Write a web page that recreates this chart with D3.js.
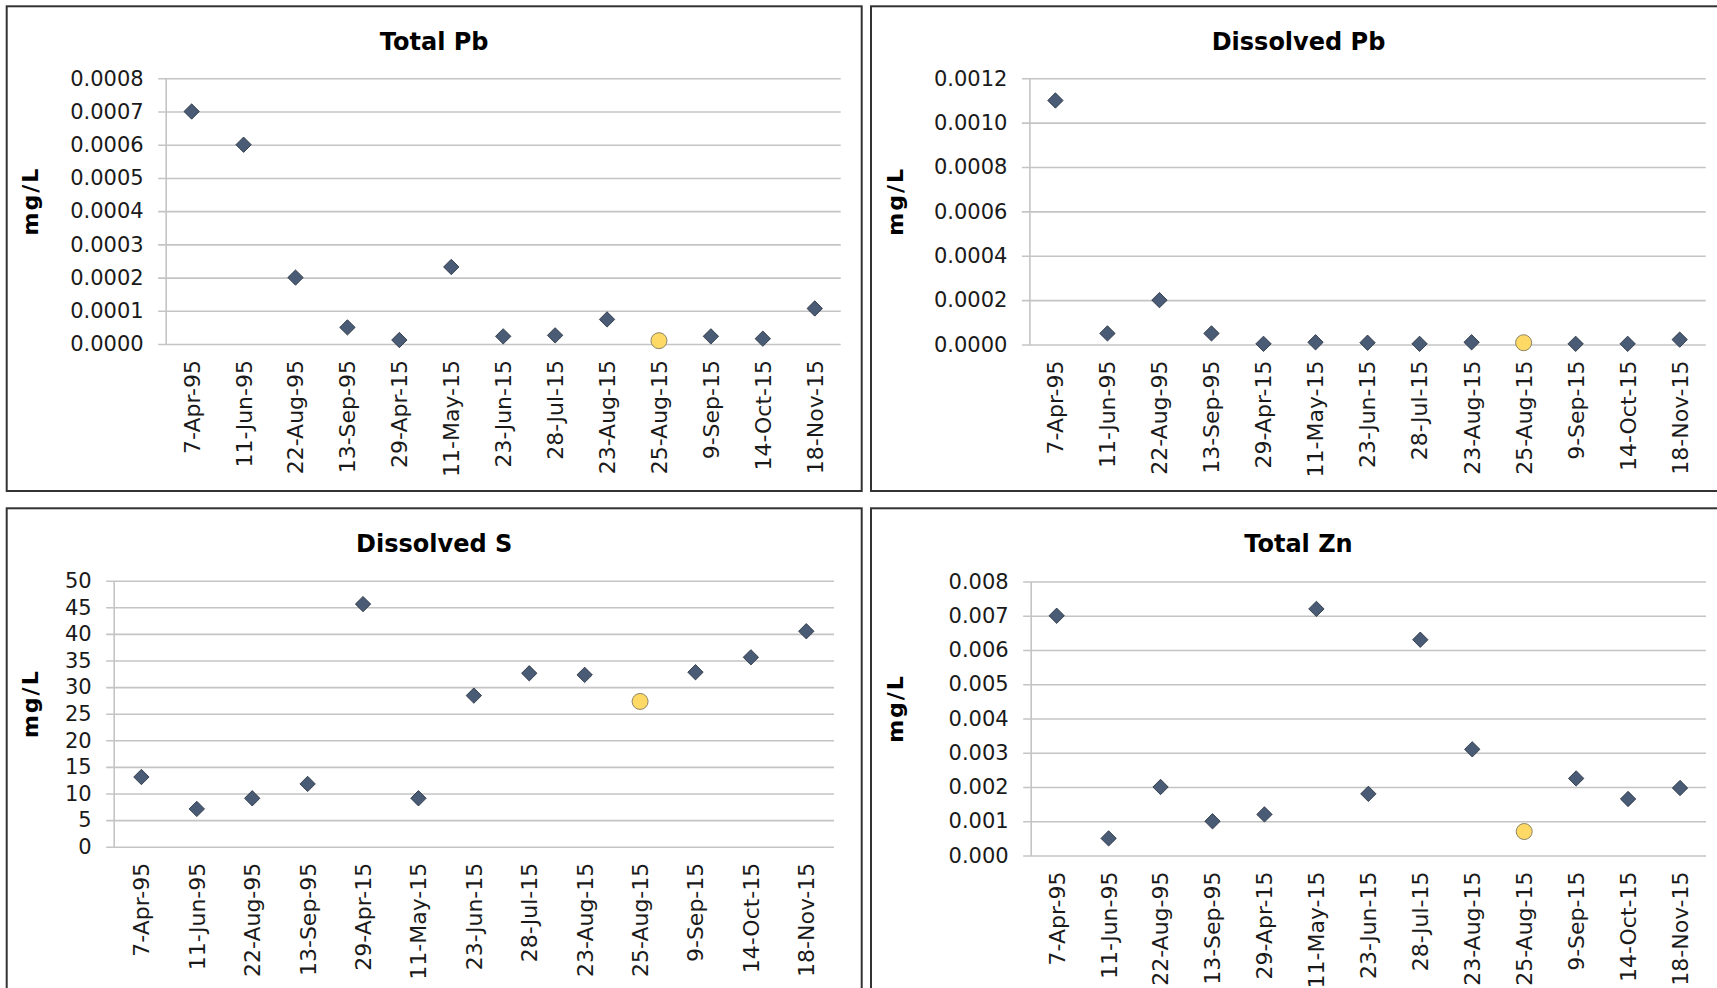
<!DOCTYPE html>
<html lang="en">
<head>
<meta charset="UTF-8"/>
<title>Pb, S and Zn concentrations</title>
<script src="https://d3js.org/d3.v7.min.js"></script>
<style>
    html, body {
        margin: 0;
        padding: 0;
        background: #fff;
    }
    svg { display: block; }
    .tick text {
        font-family: "DejaVu Sans", Verdana, sans-serif;
        font-size: 21px;
        fill: #1a1a1a;
    }
    .xax .tick text { font-size: 22px; }
    .title {
        font-family: "DejaVu Sans", Verdana, sans-serif;
        font-weight: bold;
        font-size: 24px;
        fill: #000;
    }
    .ylab {
        font-family: "DejaVu Sans", Verdana, sans-serif;
        font-weight: bold;
        font-size: 22px;
        letter-spacing: 2px;
        fill: #000;
    }
</style>
</head>
<body>
<div id="chart"></div>
<script>
    // sampling dates (same for every panel)
    var dates = ["7-Apr-95", "11-Jun-95", "22-Aug-95", "13-Sep-95", "29-Apr-15", "11-May-15",
                 "23-Jun-15", "28-Jul-15", "23-Aug-15", "25-Aug-15", "9-Sep-15", "14-Oct-15", "18-Nov-15"];
    var flagged = "25-Aug-15"; // drawn as yellow circle

    // values in mg/L
    var totalPb     = [0.0007, 0.0006, 0.0002, 0.00005, 0.000012, 0.000232, 0.000023, 0.000026, 0.000074, 0.00001, 0.000023, 0.000016, 0.000107];
    var dissolvedPb = [0.0011, 0.00005, 0.0002, 0.00005, 0.000003, 0.00001, 0.000008, 0.000003, 0.00001, 0.000008, 0.000003, 0.000003, 0.000022];
    var dissolvedS  = [13.1, 7.1, 9.1, 11.8, 45.6, 9.1, 28.4, 32.6, 32.3, 27.3, 32.8, 35.6, 40.5];
    var totalZn     = [0.007, 0.0005, 0.002, 0.001, 0.0012, 0.0072, 0.0018, 0.0063, 0.0031, 0.0007, 0.00225, 0.00165, 0.00197];

    // y tick labels
    var totalPbTicks     = [0, 0.0001, 0.0002, 0.0003, 0.0004, 0.0005, 0.0006, 0.0007, 0.0008];
    var dissolvedPbTicks = [0, 0.0002, 0.0004, 0.0006, 0.0008, 0.0010, 0.0012];
    var dissolvedSTicks  = [0, 5, 10, 15, 20, 25, 30, 35, 40, 45, 50];
    var totalZnTicks     = [0, 0.001, 0.002, 0.003, 0.004, 0.005, 0.006, 0.007, 0.008];

    var w = 1717;
    var h = 988;

    // box = panel frame [x, y, w, h], plot = [left, top, right, bottom]
    var panels = [
        { title: "Total Pb", values: totalPb, ticks: totalPbTicks, fmt: ".4f",
          box: [6.7, 6.3, 855, 484.7], plot: [165.7, 78.3, 840.7, 344] },
        { title: "Dissolved Pb", values: dissolvedPb, ticks: dissolvedPbTicks, fmt: ".4f",
          box: [871, 6.3, 855, 484.7], plot: [1029.4, 78.3, 1705.7, 344.5] },
        { title: "Dissolved S", values: dissolvedS, ticks: dissolvedSTicks, fmt: "d",
          box: [6.7, 508.3, 855, 484.7], plot: [113.7, 580.7, 834, 846.7] },
        { title: "Total Zn", values: totalZn, ticks: totalZnTicks, fmt: ".3f",
          box: [871, 508.3, 855, 484.7], plot: [1030.7, 581.5, 1706, 855.5] }
    ];

    var svg = d3.select("#chart")
                .append("svg")
                .attr("width", w)
                .attr("height", h);

    var diamond = d3.symbol().type(d3.symbolSquare).size(118);

    panels.forEach(function(p) {
        var g = svg.append("g");

        g.append("rect")
            .attr("x", p.box[0])
            .attr("y", p.box[1])
            .attr("width", p.box[2])
            .attr("height", p.box[3])
            .attr("fill", "none")
            .attr("stroke", "#333")
            .attr("stroke-width", 2);

        g.append("text")
            .attr("class", "title")
            .attr("x", p.box[0] + p.box[2] / 2)
            .attr("y", p.box[1] + 43.5)
            .attr("text-anchor", "middle")
            .text(p.title);

        var left = p.plot[0], top = p.plot[1], right = p.plot[2], bottom = p.plot[3];

        var x = d3.scaleBand()
                  .domain(dates)
                  .range([left, right]);

        var y = d3.scaleLinear()
                  .domain([0, d3.max(p.ticks)])
                  .range([bottom, top]);

        // y axis + gridlines
        var yAxis = g.append("g")
            .attr("transform", "translate(" + left + ",0)")
            .call(d3.axisLeft(y)
                    .tickValues(p.ticks)
                    .tickFormat(d3.format(p.fmt))
                    .tickSize(-(right - left))
                    .tickSizeOuter(0)
                    .tickPadding(22));
        yAxis.select(".domain").attr("stroke", "#c4c4c4").attr("stroke-width", 1.6);
        yAxis.selectAll(".tick line")
            .attr("x1", -7.5)
            .attr("stroke", "#c4c4c4")
            .attr("stroke-width", 1.6);

        // x axis labels
        var xAxis = g.append("g")
            .attr("class", "xax")
            .attr("transform", "translate(0," + bottom + ")")
            .call(d3.axisBottom(x).tickSize(0));
        xAxis.select(".domain").remove();
        xAxis.selectAll(".tick text")
            .attr("transform", "rotate(-90)")
            .attr("x", -16)
            .attr("y", 0)
            .attr("dy", "0.36em")
            .attr("text-anchor", "end");

        // mg/L label
        g.append("text")
            .attr("class", "ylab")
            .attr("transform", "translate(" + (p.box[0] + 24) + "," + ((top + bottom) / 2 - 10) + ") rotate(-90)")
            .attr("text-anchor", "middle")
            .attr("dominant-baseline", "central")
            .text("mg/L");

        var pts = dates.map(function(d, i) { return { date: d, v: p.values[i] }; });

        g.selectAll("path.pt")
            .data(pts.filter(function(d) { return d.date !== flagged; }))
            .enter()
            .append("path")
            .attr("class", "pt")
            .attr("d", diamond)
            .attr("transform", function(d) {
                return "translate(" + (x(d.date) + x.bandwidth() / 2) + "," + y(d.v) + ") rotate(45)";
            })
            .attr("fill", "#4a5b75")
            .attr("stroke", "#27313f")
            .attr("stroke-width", 0.8);

        g.selectAll("circle")
            .data(pts.filter(function(d) { return d.date === flagged; }))
            .enter()
            .append("circle")
            .attr("cx", function(d) { return x(d.date) + x.bandwidth() / 2; })
            .attr("cy", function(d) { return y(d.v); })
            .attr("r", 8)
            .attr("fill", "#ffd966")
            .attr("stroke", "#8a8466")
            .attr("stroke-width", 1);
    });
</script>
</body>
</html>
